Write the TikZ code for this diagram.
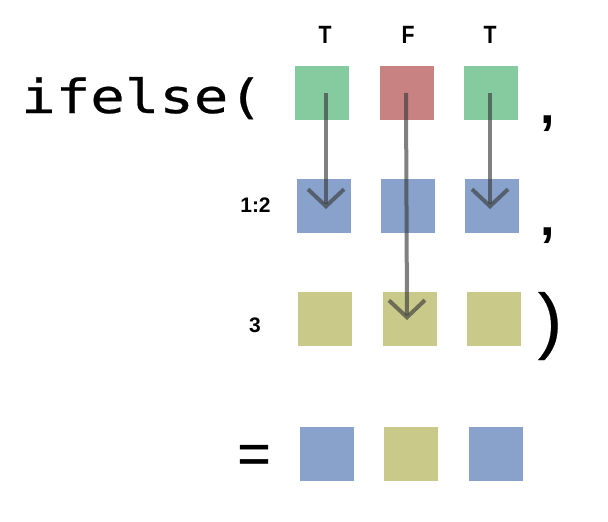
\documentclass[tikz,border=0pt]{standalone}
\usepackage{fontspec}
\setmainfont{Liberation Sans}
\newfontfamily\codefont[FakeBold=0.5]{DejaVu Sans Mono}
\newfontfamily\eqfont[FakeBold=0.8]{Liberation Sans}
\newfontfamily\parenfont[FakeBold=0.3]{Liberation Sans}
\usetikzlibrary{arrows.meta}
\definecolor{cgreen}{RGB}{134,203,160}
\definecolor{cred}{RGB}{201,130,130}
\definecolor{cblue}{RGB}{136,162,203}
\definecolor{colive}{RGB}{201,202,138}
\definecolor{carrow}{RGB}{60,60,60}
\tikzset{
  sq/.style={minimum width=54pt,minimum height=54pt,inner sep=0pt,outer sep=0pt},
  lbl/.style={font=\bfseries\fontsize{21}{21}\selectfont,inner sep=0pt},
  toplbl/.style={font=\bfseries\fontsize{25}{25}\selectfont,inner sep=0pt,xscale=0.85},
  flow/.style={draw=carrow,opacity=0.65,line width=4pt,-{Straight Barb[length=17pt,width=36pt,line width=4pt]}},
  punct/.style={anchor=base,inner sep=0pt,font=\bfseries\fontsize{52}{52}\selectfont},
}
\begin{document}
\begin{tikzpicture}[x=1pt,y=-1pt]
\useasboundingbox (0,0) rectangle (608,522);
% row 1
\node[sq,fill=cgreen] (a1) at (322,93) {};
\node[sq,fill=cred] (a2) at (407,93) {};
\node[sq,fill=cgreen] (a3) at (491,93) {};
% row 2
\node[sq,fill=cblue] (b1) at (324,206) {};
\node[sq,fill=cblue] (b2) at (408,206) {};
\node[sq,fill=cblue] (b3) at (492,206) {};
% row 3
\node[sq,fill=colive] (c1) at (325,319) {};
\node[sq,fill=colive] (c2) at (410,319) {};
\node[sq,fill=colive] (c3) at (494,319) {};
% row 4
\node[sq,fill=cblue] (d1) at (327,454) {};
\node[sq,fill=colive] (d2) at (411,454) {};
\node[sq,fill=cblue] (d3) at (496,454) {};
% labels
\node[toplbl] (t1) at (325,35) {T};
\node[toplbl] (t2) at (408,35) {F};
\node[toplbl] (t3) at (490,35) {T};
\node[lbl,anchor=base] (l12) at (255.5,212) {1:2};
\node[lbl,anchor=base] (l3) at (255,332) {3};
% code text
\node[anchor=base west,inner sep=0pt,font=\codefont\fontsize{47}{47}\selectfont,xscale=1.22] (fn) at (21,113) {ifelse(};
\node[punct] (cm1) at (548,123) {,};
\node[punct] (cm2) at (548,235) {,};
\node[anchor=center,inner sep=0pt,font=\parenfont\fontsize{73}{73}\selectfont] (rp) at (550,326) {)};
\node[anchor=center,inner sep=0pt,font=\eqfont\fontsize{57}{57}\selectfont] (eq) at (254,459) {=};
% arrows
\coordinate (s1) at (326,93);
\coordinate (e1) at (326,209);
\coordinate (s2) at (406,93);
\coordinate (e2) at (407,320);
\coordinate (s3) at (490,93);
\coordinate (e3) at (490,209);
\draw[flow] (s1) -- (e1);
\draw[flow] (s2) -- (e2);
\draw[flow] (s3) -- (e3);
\end{tikzpicture}
\end{document}
